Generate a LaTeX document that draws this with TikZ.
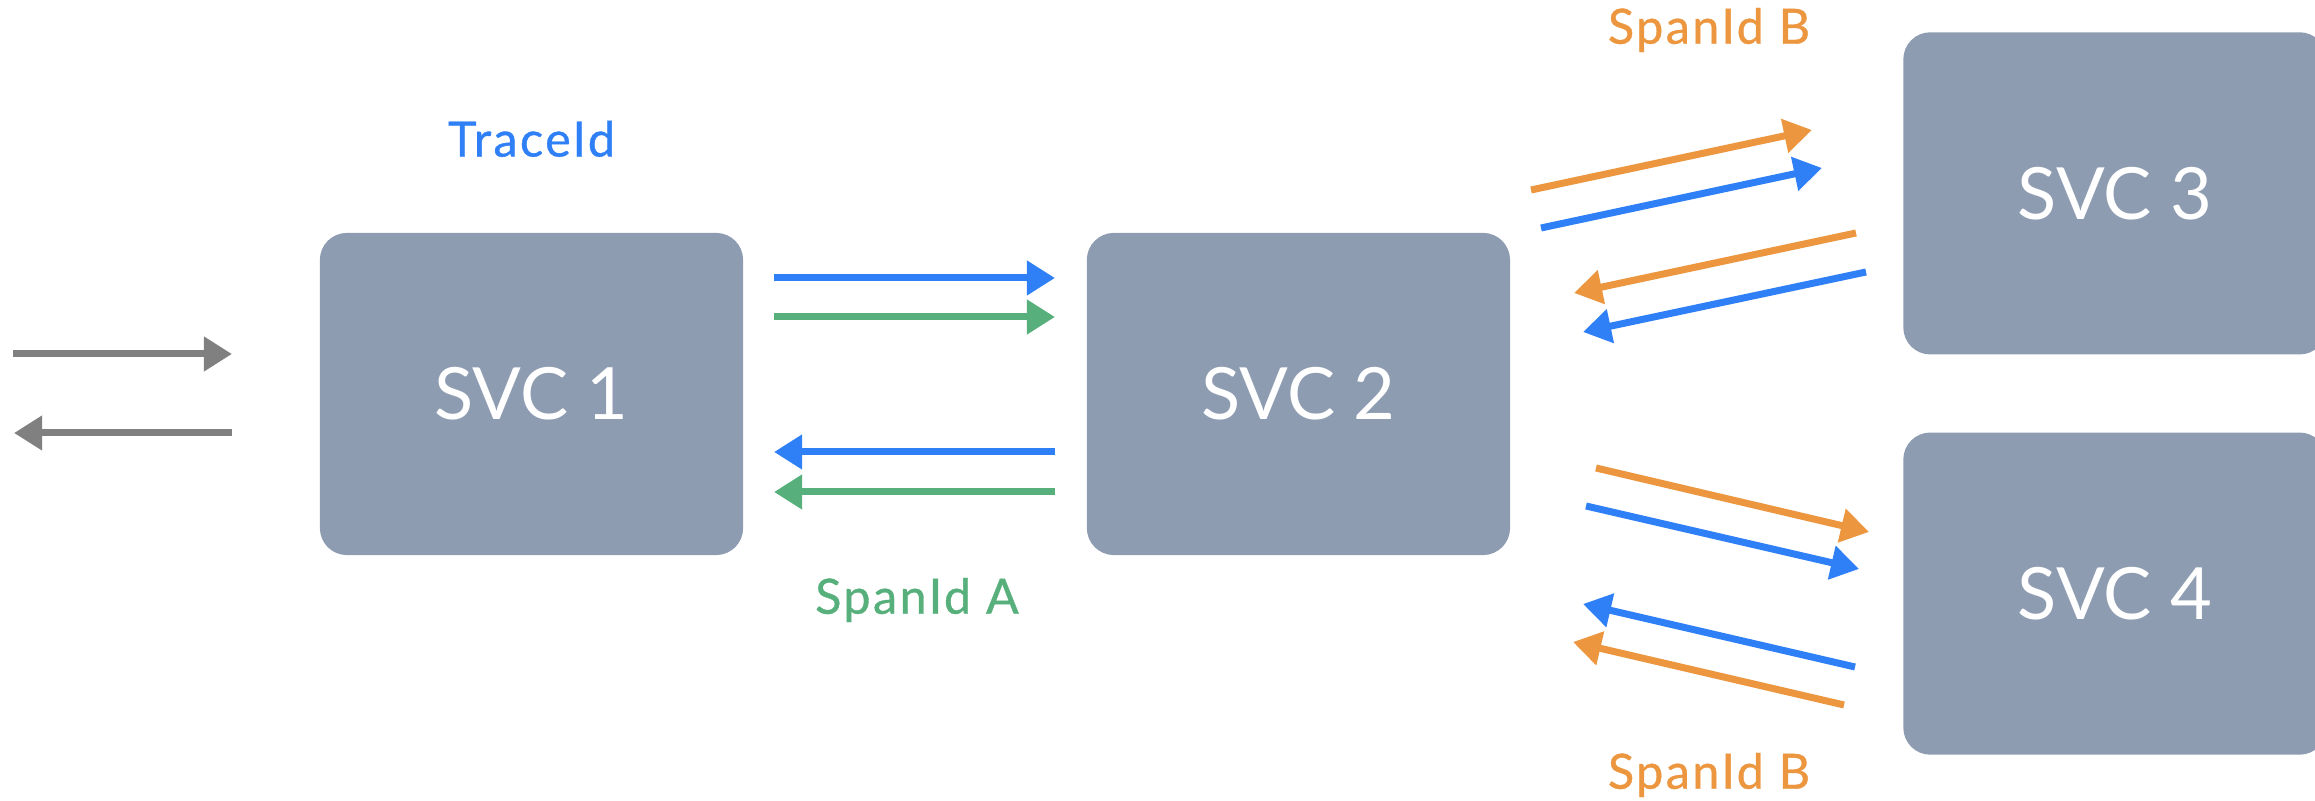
\documentclass[tikz,border=0pt]{standalone}
\usepackage{fontspec}
\setmainfont{Lato}
\newfontfamily\tagfont[LetterSpace=5, FakeBold=0.8]{Lato}
\usetikzlibrary{positioning,arrows.meta}
\definecolor{boxgray}{HTML}{8E9CB2}
\definecolor{traceblue}{HTML}{2F80F6}
\definecolor{spangreen}{HTML}{57B07B}
\definecolor{spanorange}{HTML}{EC963F}
\definecolor{callgray}{HTML}{808080}
\begin{document}
\begin{tikzpicture}[
  x=0.01cm, y=-0.01cm,
  svc/.style={rectangle, rounded corners=0.27cm, fill=boxgray, minimum width=4.23cm, minimum height=3.22cm, inner sep=0pt, text=white, font=\fontsize{20.5}{24}\selectfont},
  tag/.style={font=\tagfont\fontsize{13.8}{15}\selectfont, inner sep=0pt},
  call/.style={line width=0.07cm, -{Triangle[length=0.28cm,width=0.33cm]}},
  node distance=2cm
]
\useasboundingbox (0,0) rectangle (2315,801);

\node[svc] (svc1) at (531.5,394) {SVC 1};
\node[svc, right of=svc1, node distance=7.665cm] (svc2) {SVC 2};
\node[svc, right of=svc2, node distance=8.16cm, yshift=2.005cm] (svc3) {SVC 3};
\node[svc, below of=svc3, node distance=4cm] (svc4) {SVC 4};

\node[tag, text=traceblue, above of=svc1, node distance=2.55cm] (traceid) {TraceId};
\node[tag, text=spangreen] (spanida) at (917,600) {SpanId A};
\node[tag, text=spanorange] (spanidb3) at (1709,30) {SpanId B};
\node[tag, text=spanorange] (spanidb4) at (1709,775) {SpanId B};

\coordinate (inA) at (13,354);   \coordinate (inB) at (232,354);
\coordinate (outA) at (232,433); \coordinate (outB) at (14,433);

\coordinate (req12A) at (774,278);  \coordinate (req12B) at (1055,278);
\coordinate (sid12A) at (774,317);  \coordinate (sid12B) at (1055,317);
\coordinate (res21A) at (1055,452); \coordinate (res21B) at (774,452);
\coordinate (sid21A) at (1055,492); \coordinate (sid21B) at (774,492);

\coordinate (sid23A) at (1531,190); \coordinate (sid23B) at (1812,130);
\coordinate (req23A) at (1541,228); \coordinate (req23B) at (1822,168);
\coordinate (sid32A) at (1856,233); \coordinate (sid32B) at (1574,293);
\coordinate (res32A) at (1866,272); \coordinate (res32B) at (1583,332);

\coordinate (sid24A) at (1596,468); \coordinate (sid24B) at (1869,532);
\coordinate (req24A) at (1586,506); \coordinate (req24B) at (1859,569);
\coordinate (res42A) at (1855,667); \coordinate (res42B) at (1583,604);
\coordinate (sid42A) at (1844,705); \coordinate (sid42B) at (1573,642);

\draw[call, callgray] (inA) -- (inB);
\draw[call, callgray] (outA) -- (outB);

\draw[call, traceblue] (req12A) -- (req12B);
\draw[call, spangreen] (sid12A) -- (sid12B);
\draw[call, traceblue] (res21A) -- (res21B);
\draw[call, spangreen] (sid21A) -- (sid21B);

\draw[call, spanorange] (sid23A) -- (sid23B);
\draw[call, traceblue] (req23A) -- (req23B);
\draw[call, spanorange] (sid32A) -- (sid32B);
\draw[call, traceblue] (res32A) -- (res32B);

\draw[call, spanorange] (sid24A) -- (sid24B);
\draw[call, traceblue] (req24A) -- (req24B);
\draw[call, traceblue] (res42A) -- (res42B);
\draw[call, spanorange] (sid42A) -- (sid42B);
\end{tikzpicture}
\end{document}
